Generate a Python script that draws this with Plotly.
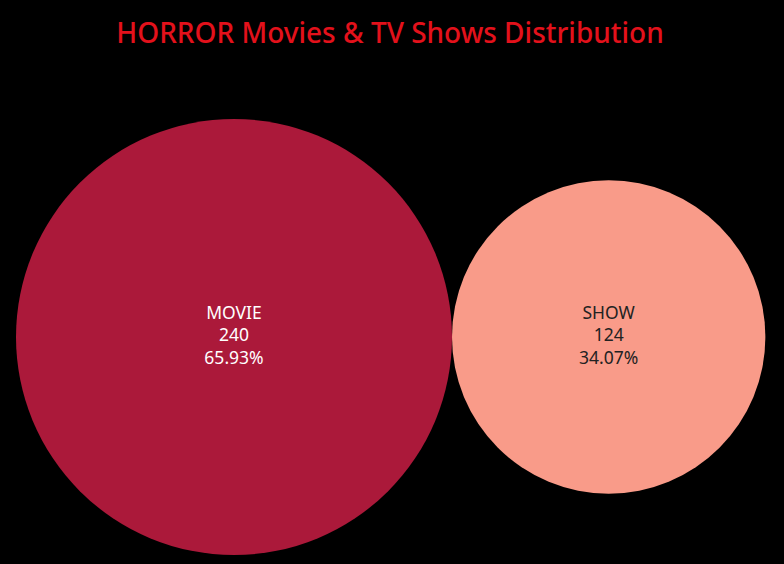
import math
import plotly.graph_objects as go

categories = ["MOVIE", "SHOW"]
counts = [240, 124]
colors = ["#AB193A", "#F99B89"]
text_colors = ["#FFFFFF", "#222222"]
title_text = "HORROR Movies & TV Shows Distribution"

W, H = 784, 564
total = sum(counts)
radii = [math.sqrt(c) for c in counts]

# pack bubbles side by side (tangent), centred vertically
centers_x = [0.0, radii[0] + radii[1]]
centers_y = [0.0, 0.0]

# pixel scale: largest bubble radius in pixels
px_per_unit = 218 / radii[0]
cx_px, cy_px = 234, 337
x_range = [-cx_px / px_per_unit, (W - cx_px) / px_per_unit]
y_range = [-(H - cy_px) / px_per_unit, cy_px / px_per_unit]

shapes = []
for cx, cy, r, col in zip(centers_x, centers_y, radii, colors):
    shapes.append(dict(type="circle", xref="x", yref="y",
                       x0=cx - r, x1=cx + r, y0=cy - r, y1=cy + r,
                       fillcolor=col, line=dict(width=0), layer="below"))

fig = go.Figure()
for cat, cnt, cx, cy, tc in zip(categories, counts, centers_x, centers_y, text_colors):
    fig.add_trace(go.Scatter(
        x=[cx], y=[cy], mode="text",
        text=[f"{cat}<br>{cnt}<br>{cnt / total * 100:.2f}%"],
        textfont=dict(family="Noto Sans, Open Sans, sans-serif", size=17.5, color=tc),
        hoverinfo="skip", showlegend=False))

fig.update_layout(
    width=W, height=H,
    paper_bgcolor="#000000", plot_bgcolor="#000000",
    margin=dict(l=0, r=0, t=0, b=0),
    shapes=shapes,
    title=dict(text=title_text, x=390 / W, xanchor="center",
               y=1 - 33 / H, yanchor="middle",
               font=dict(family="Noto Sans, Open Sans, sans-serif", size=28,
                         color="#E3111B", weight=500)),
    xaxis=dict(range=x_range, visible=False, fixedrange=True),
    yaxis=dict(range=y_range, visible=False, fixedrange=True),
    showlegend=False,
)

fig.write_html("out.html", config={"displayModeBar": False},
               post_script="document.body.style.margin='0';document.body.style.background='#000';")
